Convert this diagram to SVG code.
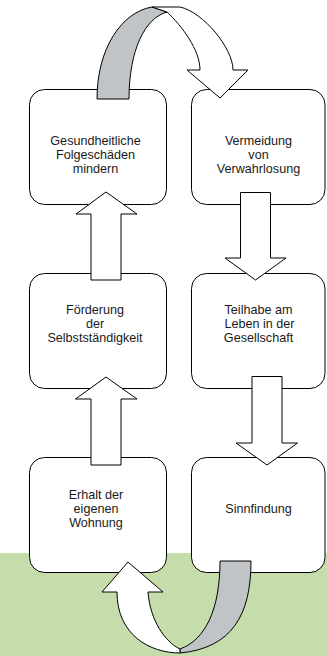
<svg xmlns="http://www.w3.org/2000/svg" width="327" height="656" viewBox="0 0 327 656">
<style>
.box{fill:#fff;stroke:#000;stroke-width:1}
.arr{fill:#fff;stroke:#000;stroke-width:1;stroke-linejoin:miter}
.gry{fill:#c1c4c7;stroke:#000;stroke-width:1}
text{font-family:"Liberation Sans",Arial,sans-serif;font-size:12.6px;fill:#1a1a1a;text-anchor:middle}
</style>
<rect x="0" y="553" width="327" height="103" fill="#c4ddab"/>
<g id="n1"><rect class="box" x="29.5" y="89.5" width="137" height="115" rx="15"/>
<text x="95.5" y="145">Gesundheitliche</text><text x="95.5" y="159">Folgeschäden</text><text x="95.5" y="173">mindern</text></g>
<g id="n2"><rect class="box" x="191.5" y="89.5" width="133.5" height="115" rx="15"/>
<text x="258.5" y="145">Vermeidung</text><text x="258.5" y="159">von</text><text x="258.5" y="173">Verwahrlosung</text></g>
<g id="n3"><rect class="box" x="29.5" y="273.5" width="137" height="115" rx="15"/>
<text x="95" y="314">Förderung</text><text x="95" y="328">der</text><text x="95" y="342">Selbstständigkeit</text></g>
<g id="n4"><rect class="box" x="191.5" y="273.5" width="133.5" height="115" rx="15"/>
<text x="258.5" y="314">Teilhabe am</text><text x="259.5" y="328">Leben in der</text><text x="258.5" y="342">Gesellschaft</text></g>
<g id="n5"><rect class="box" x="29.5" y="457.5" width="137" height="115" rx="15"/>
<text x="96" y="499">Erhalt der</text><text x="96" y="513">eigenen</text><text x="96" y="527">Wohnung</text></g>
<g id="n6"><rect class="box" x="191.5" y="457.5" width="133.5" height="115" rx="15"/>
<text x="258.5" y="513">Sinnfindung</text></g>
<g id="connectors">
<path class="arr" d="M91,280 L91,214 L76,214 L106,192 L137,214 L121,214 L121,280 Z"/>
<path class="arr" d="M91,465 L91,399 L75.5,399 L106,377 L137,399 L121,399 L121,465 Z"/>
<path class="arr" d="M240.5,192.5 L270.5,192.5 L270.5,258 L286,258 L255.5,280 L225,258 L240.5,258 Z"/>
<path class="arr" d="M252,376.5 L282,376.5 L282,443 L297.5,443 L267,465 L236,443 L252,443 Z"/>
<path class="gry" d="M97,99 C97,48 122,12 152,7 L167,12 C145,18 129,50 129,99 Z"/>
<path class="arr" d="M152,7 L180,7 C203,12 233,48 233,70 L248,70 L220,98 L187,70 L200,70 C200,50 182,26 167,12 Z"/>
<path class="gry" d="M220,561 L251,561 C251,615 232,648 180,653 L180,649 C205,640 220,610 220,561 Z"/>
<path class="arr" d="M180,653 C150,653 117,635 117,592 L102,592 L128,562 L163,592 L148,592 C150,620 165,642 180,649 Z"/>
</g>
</svg>
